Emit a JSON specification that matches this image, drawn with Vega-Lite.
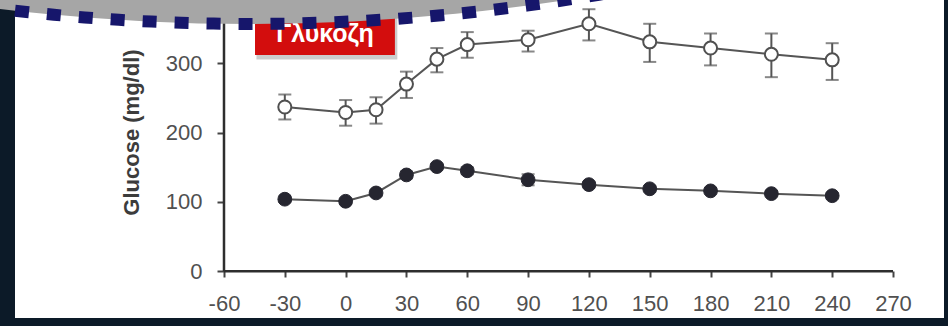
{
  "$schema": "https://vega.github.io/schema/vega-lite/v6.json",
  "width": 929,
  "height": 318,
  "autosize": {"type": "none"},
  "padding": {"left": 15, "top": 0, "right": 4, "bottom": 8},
  "background": "#0c1a28",
  "config": {"view": {"fill": "white", "stroke": null}, "font": "Liberation Sans"},
  "data": {
    "values": [
      {"t": -30, "series": "open", "mean": 237, "lo": 219, "hi": 255},
      {"t": 0, "series": "open", "mean": 229, "lo": 210, "hi": 247},
      {"t": 15, "series": "open", "mean": 233, "lo": 213, "hi": 251},
      {"t": 30, "series": "open", "mean": 270, "lo": 250, "hi": 288},
      {"t": 45, "series": "open", "mean": 306, "lo": 287, "hi": 322},
      {"t": 60, "series": "open", "mean": 327, "lo": 308, "hi": 345},
      {"t": 90, "series": "open", "mean": 334, "lo": 317, "hi": 347},
      {"t": 120, "series": "open", "mean": 357, "lo": 333, "hi": 378},
      {"t": 150, "series": "open", "mean": 331, "lo": 302, "hi": 357},
      {"t": 180, "series": "open", "mean": 322, "lo": 297, "hi": 343},
      {"t": 210, "series": "open", "mean": 313, "lo": 280, "hi": 343},
      {"t": 240, "series": "open", "mean": 305, "lo": 276, "hi": 329},
      {"t": -30, "series": "filled", "mean": 104, "lo": 100, "hi": 108},
      {"t": 0, "series": "filled", "mean": 101, "lo": 97, "hi": 105},
      {"t": 15, "series": "filled", "mean": 113, "lo": 109, "hi": 117},
      {"t": 30, "series": "filled", "mean": 139, "lo": 134, "hi": 144},
      {"t": 45, "series": "filled", "mean": 151, "lo": 147, "hi": 155},
      {"t": 60, "series": "filled", "mean": 145, "lo": 140, "hi": 150},
      {"t": 90, "series": "filled", "mean": 132, "lo": 124, "hi": 140},
      {"t": 120, "series": "filled", "mean": 125, "lo": 121, "hi": 129},
      {"t": 150, "series": "filled", "mean": 119, "lo": 115, "hi": 123},
      {"t": 180, "series": "filled", "mean": 116, "lo": 112, "hi": 120},
      {"t": 210, "series": "filled", "mean": 112, "lo": 108, "hi": 116},
      {"t": 240, "series": "filled", "mean": 109, "lo": 105, "hi": 113}
    ]
  },
  "layer": [
    {
      "mark": {"type": "line", "color": "#555555", "strokeWidth": 2},
      "encoding": {
        "x": {
          "field": "t", "type": "quantitative", "title": null,
          "scale": {"domain": [-163.09, 295.15], "nice": false, "zero": false},
          "axis": {
            "values": [-60, -30, 0, 30, 60, 90, 120, 150, 180, 210, 240, 270],
            "labelExpr": "'' + datum.value",
            "domain": false, "grid": false, "offset": -47,
            "tickSize": 6, "tickWidth": 2, "tickColor": "#444444",
            "labelFontSize": 22, "labelColor": "#505050", "labelPadding": 16,
            "title": null
          }
        },
        "y": {
          "field": "mean", "type": "quantitative", "title": "Glucose (mg/dl)",
          "scale": {"domain": [-67.36, 391.3], "nice": false, "zero": false},
          "axis": {
            "values": [0, 100, 200, 300],
            "domain": false, "grid": false, "offset": -209,
            "tickSize": 7, "tickWidth": 2, "tickColor": "#444444",
            "labelFontSize": 22, "labelColor": "#505050", "labelPadding": 15,
            "title": "Glucose (mg/dl)", "titleFontSize": 22, "titleFontWeight": "bold",
            "titleColor": "#3c3c3c", "titlePadding": 22, "titleY": 132
          }
        },
        "detail": {"field": "series"}
      }
    },
    {
      "mark": {"type": "errorbar", "color": "#555555", "thickness": 2, "ticks": {"size": 13}},
      "encoding": {
        "x": {"field": "t", "type": "quantitative", "title": null},
        "y": {"field": "lo", "type": "quantitative", "title": "Glucose (mg/dl)"},
        "y2": {"field": "hi"}
      }
    },
    {
      "transform": [{"filter": "datum.series === 'open'"}],
      "mark": {"type": "point", "shape": "circle", "filled": true, "fill": "white", "stroke": "#505050", "strokeWidth": 2, "size": 170, "opacity": 1},
      "encoding": {
        "x": {"field": "t", "type": "quantitative", "title": null},
        "y": {"field": "mean", "type": "quantitative", "title": "Glucose (mg/dl)"}
      }
    },
    {
      "transform": [{"filter": "datum.series === 'filled'"}],
      "mark": {"type": "point", "shape": "circle", "filled": true, "fill": "#262630", "stroke": "#262630", "strokeWidth": 1, "size": 190, "opacity": 1},
      "encoding": {
        "x": {"field": "t", "type": "quantitative", "title": null},
        "y": {"field": "mean", "type": "quantitative", "title": "Glucose (mg/dl)"}
      }
    },
    {
      "data": {"values": [{}]},
      "mark": {"type": "rule", "color": "#2e2e2e", "strokeWidth": 2.5},
      "encoding": {"x": {"datum": -60}, "x2": {"datum": 270}, "y": {"datum": 0}}
    },
    {
      "data": {"values": [{}]},
      "mark": {"type": "rule", "color": "#2e2e2e", "strokeWidth": 2.5},
      "encoding": {"x": {"datum": -60}, "y": {"datum": 0}, "y2": {"datum": 385}}
    },
    {
      "data": {"values": [{}]},
      "mark": {"type": "rect", "color": "#000000", "opacity": 0.2},
      "encoding": {"x": {"datum": -44}, "x2": {"datum": 25.5}, "y": {"datum": 305.5}, "y2": {"datum": 368}}
    },
    {
      "data": {"values": [{}]},
      "mark": {"type": "rect", "color": "#d30d0d", "opacity": 1},
      "encoding": {"x": {"datum": -44.7}, "x2": {"datum": 24.3}, "y": {"datum": 312}, "y2": {"datum": 370}}
    },
    {
      "data": {"values": [{}]},
      "mark": {"type": "text", "text": "Γλυκοζη", "color": "white", "fontSize": 25, "fontWeight": "bold", "align": "center", "baseline": "alphabetic"},
      "encoding": {"x": {"datum": -10.2}, "y": {"datum": 330.7}}
    },
    {
      "data": {"values": [{}]},
      "mark": {"type": "point", "shape": "circle", "filled": true, "fill": "#a6a6a6", "stroke": "#16166b", "strokeWidth": 12, "strokeDash": [14, 18], "size": 17640000, "opacity": 1},
      "encoding": {"x": {"datum": -47.2}, "y": {"datum": 3385.7}}
    }
  ]
}
